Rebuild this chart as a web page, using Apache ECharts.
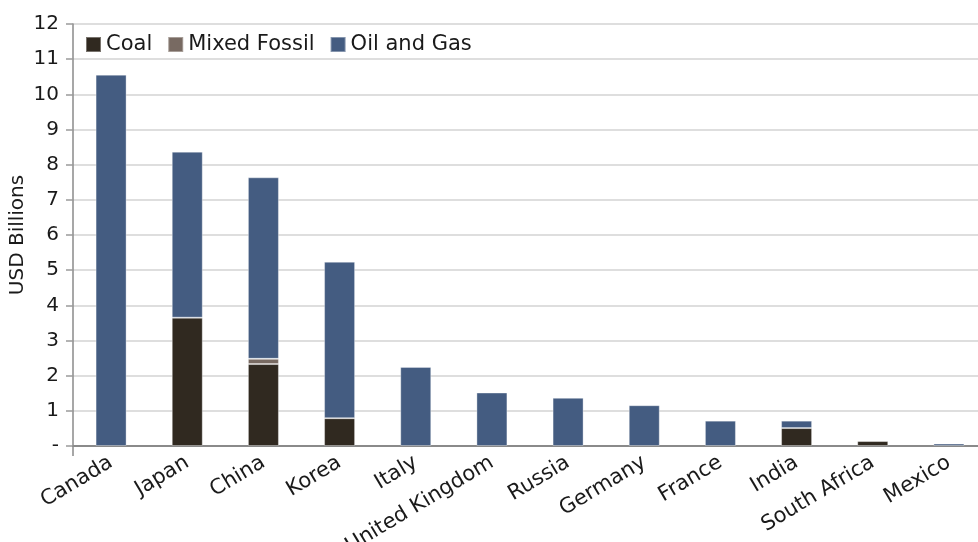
<!DOCTYPE html>
<html>
<head>
<meta charset="utf-8">
<script src="https://cdn.jsdelivr.net/npm/echarts@6/dist/echarts.min.js"></script>
<style>
  html, body { margin: 0; padding: 0; background: #ffffff; }
  #chart { width: 978px; height: 542px; }
</style>
</head>
<body>
<div id="chart"></div>
<script>
// Fossil fuel finance by country, USD billions
const categories = ['Canada', 'Japan', 'China', 'Korea', 'Italy', 'United Kingdom',
  'Russia', 'Germany', 'France', 'India', 'South Africa', 'Mexico'];
const coal        = [0, 3.65, 2.33, 0.79, 0, 0, 0, 0, 0, 0.51, 0.14, 0];
const mixedFossil = [0, 0, 0.15, 0, 0, 0, 0, 0, 0, 0, 0, 0];
const oilAndGas   = [10.56, 4.72, 5.16, 4.45, 2.25, 1.52, 1.37, 1.16, 0.72, 0.21, 0, 0.07];
const yTicks = { min: 0, max: 12, step: 1 };

const FONT = 'DejaVu Sans';
const toData = arr => arr.map(v => (v === 0 ? null : v));

function barSeries(name, values, color) {
  return {
    name: name,
    type: 'bar',
    stack: 'total',
    barWidth: 31,
    data: toData(values),
    itemStyle: { color: color, borderColor: 'rgba(255,255,255,0.35)', borderWidth: 1 }
  };
}

const chart = echarts.init(document.getElementById('chart'), null, { renderer: 'canvas' });
chart.setOption({
  animation: false,
  textStyle: { fontFamily: FONT },
  grid: { left: 73, right: -9, top: 24, bottom: 96, containLabel: false, outerBoundsMode: 'none' },
  legend: {
    left: 80,
    top: 29,
    itemWidth: 15,
    itemHeight: 15,
    itemGap: 15,
    icon: 'rect',
    textStyle: { fontFamily: FONT, fontSize: 21, color: '#1a1a1a' },
    data: ['Coal', 'Mixed Fossil', 'Oil and Gas']
  },
  xAxis: {
    type: 'category',
    data: categories,
    boundaryGap: true,
    axisLine: { lineStyle: { color: '#8a8a8a', width: 2 } },
    axisTick: {
      show: true,
      length: 10,
      interval: (i) => i === 0,
      lineStyle: { color: '#8a8a8a', width: 1.5 }
    },
    axisLabel: {
      interval: 0,
      rotate: 31,
      margin: 15,
      fontFamily: FONT,
      fontSize: 21,
      color: '#1a1a1a'
    }
  },
  yAxis: {
    type: 'value',
    min: yTicks.min,
    max: yTicks.max,
    interval: yTicks.step,
    name: 'USD Billions',
    nameLocation: 'middle',
    nameGap: 45,
    nameMoveOverlap: false,
    nameTextStyle: { fontFamily: FONT, fontSize: 20, color: '#1a1a1a' },
    axisLine: { show: true, lineStyle: { color: '#8a8a8a', width: 1.5 } },
    axisTick: { show: true, length: 7, lineStyle: { color: '#9a9a9a', width: 1.5 } },
    axisLabel: {
      margin: 14,
      fontFamily: FONT,
      fontSize: 20,
      color: '#1a1a1a',
      formatter: v => (v === 0 ? '-' : String(v))
    },
    splitLine: { show: true, lineStyle: { color: '#d3d3d3', width: 1.5 } }
  },
  series: [
    barSeries('Coal', coal, '#302920'),
    barSeries('Mixed Fossil', mixedFossil, '#786a62'),
    barSeries('Oil and Gas', oilAndGas, '#445c81')
  ]
});
</script>
</body>
</html>
